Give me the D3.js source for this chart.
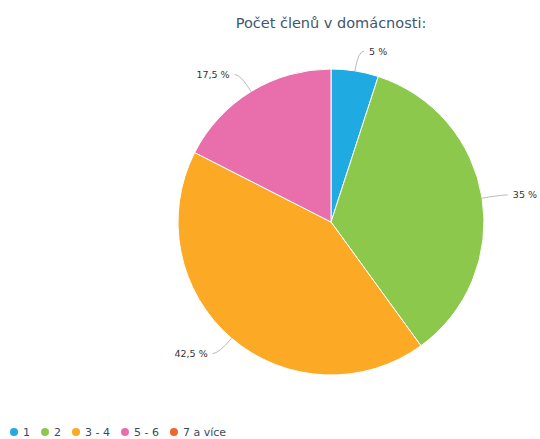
<!DOCTYPE html>
<html>
<head>
    <script src="https://d3js.org/d3.v7.min.js"></script>
    <style>
        body { margin: 0; background: #fff; }
        text { font-family: "DejaVu Sans", sans-serif; }
    </style>
</head>
<body>
    <div id="chart"></div>
    <script>
        var categories = ["1", "2", "3 - 4", "5 - 6", "7 a více"];
        var values = [5, 35, 42.5, 17.5, 0];
        var colors = ["#1faae2", "#8cc84b", "#fca926", "#e86eac", "#f1652b"];
        var title = "Počet členů v domácnosti:";

        var width = 540, height = 439;
        var cx = 331, cy = 222, radius = 153;

        var svg = d3.select("#chart").append("svg")
            .attr("width", width)
            .attr("height", height);

        svg.append("text")
            .attr("x", cx)
            .attr("y", 28)
            .attr("text-anchor", "middle")
            .style("font-size", "14.5px")
            .style("fill", "#3e576f")
            .text(title);

        var data = categories.map(function(c, i) {
            return { label: c, value: values[i], color: colors[i] };
        });

        var pie = d3.pie().sort(null).value(function(d) { return d.value; });
        var arc = d3.arc().innerRadius(0).outerRadius(radius);

        var g = svg.append("g").attr("transform", "translate(" + cx + "," + cy + ")");
        var arcs = pie(data);

        g.selectAll("path.slice")
            .data(arcs.filter(function(d) { return d.data.value > 0; }))
            .enter().append("path")
            .attr("class", "slice")
            .attr("d", arc)
            .style("fill", function(d) { return d.data.color; })
            .style("stroke", "#fff")
            .style("stroke-width", 1);

        // labels with connectors
        var labelled = arcs.filter(function(d) { return d.data.value > 0; });
        labelled.forEach(function(d) {
            var a = (d.startAngle + d.endAngle) / 2;
            var sx = Math.sin(a), sy = -Math.cos(a);
            var ex = radius * sx, ey = radius * sy;
            var kx = (radius + 20) * sx, ky = (radius + 20) * sy;
            var side = sx >= 0 ? 1 : -1;
            var endx = kx + side * 6;
            g.append("path")
                .attr("d", "M" + ex + "," + ey + "Q" + kx + "," + ky + " " + endx + "," + ky)
                .style("fill", "none")
                .style("stroke", "#bbbbbb")
                .style("stroke-width", 1);
            g.append("text")
                .attr("x", kx + side * 11)
                .attr("y", ky + 3.5)
                .attr("text-anchor", side > 0 ? "start" : "end")
                .style("font-size", "9.5px")
                .style("fill", "#333")
                .text(String(d.data.value).replace(".", ",") + " %");
        });

        // legend
        var legend = svg.append("g").attr("transform", "translate(0,432)");
        var x = 14;
        data.forEach(function(d) {
            legend.append("circle")
                .attr("cx", x)
                .attr("cy", 0)
                .attr("r", 4)
                .style("fill", d.color);
            var t = legend.append("text")
                .attr("x", x + 9)
                .attr("y", 4)
                .style("font-size", "11px")
                .style("fill", "#3b4a5a")
                .text(d.label);
            x += 9 + t.node().getComputedTextLength() + 15;
        });
    </script>
</body>
</html>
